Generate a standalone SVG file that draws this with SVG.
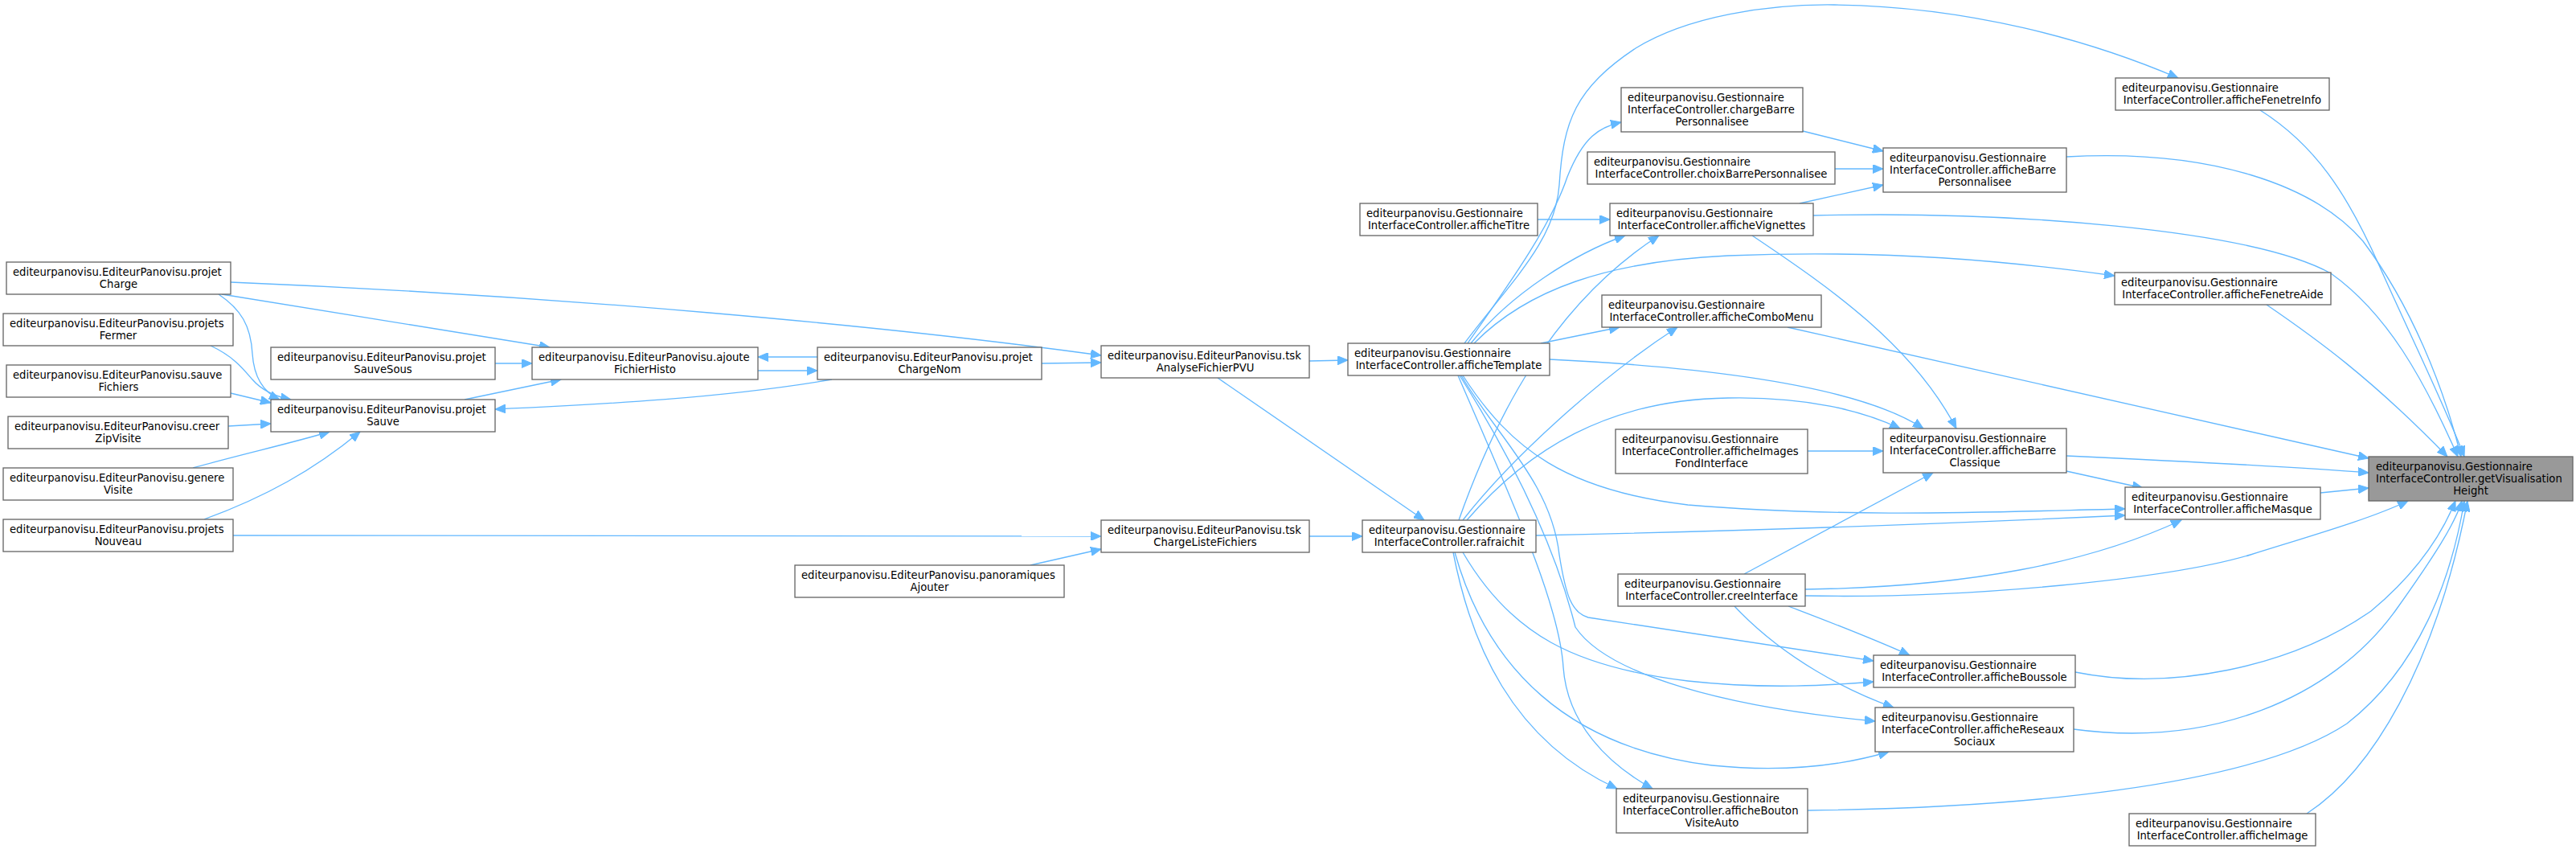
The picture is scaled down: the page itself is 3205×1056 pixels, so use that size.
<svg xmlns="http://www.w3.org/2000/svg" width="3205" height="1056" viewBox="0 0 3205 1056">
<defs>
<style>
.node rect{fill:#ffffff;stroke:#666666;stroke-width:1.33}
.node rect.root{fill:#999999}
.node text{font-family:"DejaVu Sans","Liberation Sans",sans-serif;font-size:13.2px;fill:#000000}
.node text.c{text-anchor:middle}
#edges path{fill:none;stroke:#63b8ff;stroke-width:1.33;marker-end:url(#ah)}
</style>
<marker id="ah" markerUnits="userSpaceOnUse" markerWidth="14" markerHeight="11" refX="13" refY="5.5" orient="auto">
<path d="M0,0 L13,5.5 L0,11 z" fill="#63b8ff" stroke="#63b8ff" stroke-width="1"/>
</marker>
</defs>
<rect width="3205" height="1056" fill="#ffffff"/>
<g id="edges">
<path d="M272,366 C300,385 312,405 314,440 C316,470 328,488 348,497"/>
<path d="M262,430 C290,443 302,458 314,472 C326,486 342,493 362,497"/>
<path d="M287,489 L337,501"/>
<path d="M284,530 L337,527"/>
<path d="M240,582 C300,565 360,552 410,537"/>
<path d="M254,646 C330,618 390,585 448,537"/>
<path d="M276,366 L684,432"/>
<path d="M287,351 C700,368 1100,405 1370,442"/>
<path d="M290,666 L1370,667"/>
<path d="M616,452 L662,452"/>
<path d="M578,497 L698,472"/>
<path d="M1035,472 C900,495 750,503 616,509"/>
<path d="M1017,444 L943,444"/>
<path d="M943,461 L1017,461"/>
<path d="M1296,452 L1370,451"/>
<path d="M1282,703 L1370,683"/>
<path d="M1629,449 L1677,448"/>
<path d="M1629,667 L1695,667"/>
<path d="M1515,470 L1772,647"/>
<path d="M1913,273 L2003,273"/>
<path d="M1826,427 C1880,350 1930,280 1950,220 C1970,170 1990,158 2017,152"/>
<path d="M1822,427 C1880,350 1935,300 1940,230 C1945,150 1960,110 2035,60 C2100,20 2200,5 2282,6 C2450,8 2600,50 2710,97"/>
<path d="M1830,427 C1880,365 1960,315 2022,293"/>
<path d="M1834,427 C1900,360 2000,325 2150,318 C2350,310 2500,325 2631,343"/>
<path d="M1917,427 L2015,407"/>
<path d="M1928,447 C2150,458 2320,485 2393,533"/>
<path d="M1820,467 C1880,560 1950,610 2100,628 C2300,645 2500,636 2644,633"/>
<path d="M1818,467 C1860,540 1930,600 1940,690 C1948,740 1955,762 1976,768 L2331,822"/>
<path d="M1816,467 C1900,600 1940,700 1960,780 C2000,840 2150,880 2333,897"/>
<path d="M1814,467 C1880,620 1940,750 1945,830 C1950,900 2000,950 2056,981"/>
<path d="M1815,647 C1860,520 1930,380 2064,293"/>
<path d="M1820,647 C1880,570 1990,470 2087,407"/>
<path d="M1825,647 C1900,560 2000,497 2150,495 C2250,493 2320,512 2364,533"/>
<path d="M1911,666 C2200,660 2450,650 2644,641"/>
<path d="M1820,687 C1880,790 1960,830 2100,847 C2200,858 2280,852 2331,848"/>
<path d="M1810,687 C1850,830 1950,930 2130,952 C2230,962 2300,950 2350,935"/>
<path d="M1808,687 C1830,800 1880,920 2012,981"/>
<path d="M2239,253 L2343,230"/>
<path d="M2180,293 C2280,360 2380,430 2434,533"/>
<path d="M2256,268 C2500,262 2800,285 2900,340 C2970,390 3015,470 3058,568"/>
<path d="M2243,163 L2343,188"/>
<path d="M2283,210 L2343,210"/>
<path d="M2249,561 L2343,561"/>
<path d="M2170,714 L2405,588"/>
<path d="M2246,733 C2450,730 2600,700 2714,647"/>
<path d="M2246,741 C2450,745 2700,720 2800,690 C2880,665 2950,645 2996,623"/>
<path d="M2225,754 C2280,775 2320,790 2376,815"/>
<path d="M2158,754 C2220,820 2300,860 2356,880"/>
<path d="M2812,137 C2880,180 2920,240 2960,330 C3000,420 3040,500 3066,568"/>
<path d="M2571,195 C2750,185 2880,230 2940,300 C3000,380 3040,480 3062,568"/>
<path d="M2820,379 C2880,420 2950,470 3045,568"/>
<path d="M2224,407 L2947,570"/>
<path d="M2571,567 C2700,573 2850,580 2947,588"/>
<path d="M2887,613 L2947,607"/>
<path d="M2571,586 L2666,607"/>
<path d="M2582,836 C2700,860 2850,830 2950,760 C3010,710 3040,660 3055,623"/>
<path d="M2580,907 C2750,930 2900,870 2980,760 C3030,690 3055,650 3063,623"/>
<path d="M2249,1008 C2500,1005 2800,980 2920,900 C3010,830 3050,720 3066,623"/>
<path d="M2870,1012 C2950,960 3030,830 3070,623"/>
</g>
<g id="n_getVisualisationHeight" class="node"><rect class="root" x="2947" y="568" width="254" height="55"/><text x="2956" y="585">editeurpanovisu.Gestionnaire</text><text x="2956" y="600">InterfaceController.getVisualisation</text><text class="c" x="3074" y="615">Height</text></g>
<g id="n_afficheFenetreInfo" class="node"><rect x="2632" y="97" width="266" height="40"/><text x="2640" y="114">editeurpanovisu.Gestionnaire</text><text class="c" x="2765" y="129">InterfaceController.afficheFenetreInfo</text></g>
<g id="n_afficheFenetreAide" class="node"><rect x="2631" y="339" width="269" height="40"/><text x="2639" y="356">editeurpanovisu.Gestionnaire</text><text class="c" x="2765.5" y="371">InterfaceController.afficheFenetreAide</text></g>
<g id="n_afficheMasque" class="node"><rect x="2644" y="606" width="243" height="40"/><text x="2652" y="623">editeurpanovisu.Gestionnaire</text><text class="c" x="2765.5" y="638">InterfaceController.afficheMasque</text></g>
<g id="n_afficheImage" class="node"><rect x="2649" y="1012" width="232" height="40"/><text x="2657" y="1029">editeurpanovisu.Gestionnaire</text><text class="c" x="2765" y="1044">InterfaceController.afficheImage</text></g>
<g id="n_afficheBarrePersonnalisee" class="node"><rect x="2343" y="184" width="228" height="55"/><text x="2351" y="201">editeurpanovisu.Gestionnaire</text><text x="2351" y="216">InterfaceController.afficheBarre</text><text class="c" x="2457" y="231">Personnalisee</text></g>
<g id="n_afficheBarreClassique" class="node"><rect x="2343" y="533" width="228" height="55"/><text x="2351" y="550">editeurpanovisu.Gestionnaire</text><text x="2351" y="565">InterfaceController.afficheBarre</text><text class="c" x="2457" y="580">Classique</text></g>
<g id="n_afficheBoussole" class="node"><rect x="2331" y="815" width="251" height="40"/><text x="2339" y="832">editeurpanovisu.Gestionnaire</text><text class="c" x="2456.5" y="847">InterfaceController.afficheBoussole</text></g>
<g id="n_afficheReseauxSociaux" class="node"><rect x="2333" y="880" width="247" height="55"/><text x="2341" y="897">editeurpanovisu.Gestionnaire</text><text x="2341" y="912">InterfaceController.afficheReseaux</text><text class="c" x="2456.5" y="927">Sociaux</text></g>
<g id="n_chargeBarrePersonnalisee" class="node"><rect x="2017" y="109" width="226" height="55"/><text x="2025" y="126">editeurpanovisu.Gestionnaire</text><text x="2025" y="141">InterfaceController.chargeBarre</text><text class="c" x="2130" y="156">Personnalisee</text></g>
<g id="n_choixBarrePersonnalisee" class="node"><rect x="1975" y="189" width="308" height="40"/><text x="1983" y="206">editeurpanovisu.Gestionnaire</text><text class="c" x="2129" y="221">InterfaceController.choixBarrePersonnalisee</text></g>
<g id="n_afficheVignettes" class="node"><rect x="2003" y="253" width="253" height="40"/><text x="2011" y="270">editeurpanovisu.Gestionnaire</text><text class="c" x="2129.5" y="285">InterfaceController.afficheVignettes</text></g>
<g id="n_afficheComboMenu" class="node"><rect x="1993" y="367" width="273" height="40"/><text x="2001" y="384">editeurpanovisu.Gestionnaire</text><text class="c" x="2129.5" y="399">InterfaceController.afficheComboMenu</text></g>
<g id="n_afficheImagesFondInterface" class="node"><rect x="2010" y="534" width="239" height="55"/><text x="2018" y="551">editeurpanovisu.Gestionnaire</text><text x="2018" y="566">InterfaceController.afficheImages</text><text class="c" x="2129.5" y="581">FondInterface</text></g>
<g id="n_creeInterface" class="node"><rect x="2013" y="714" width="233" height="40"/><text x="2021" y="731">editeurpanovisu.Gestionnaire</text><text class="c" x="2129.5" y="746">InterfaceController.creeInterface</text></g>
<g id="n_afficheBoutonVisiteAuto" class="node"><rect x="2011" y="981" width="238" height="55"/><text x="2019" y="998">editeurpanovisu.Gestionnaire</text><text x="2019" y="1013">InterfaceController.afficheBouton</text><text class="c" x="2130" y="1028">VisiteAuto</text></g>
<g id="n_afficheTitre" class="node"><rect x="1692" y="253" width="221" height="40"/><text x="1700" y="270">editeurpanovisu.Gestionnaire</text><text class="c" x="1802.5" y="285">InterfaceController.afficheTitre</text></g>
<g id="n_afficheTemplate" class="node"><rect x="1677" y="427" width="251" height="40"/><text x="1685" y="444">editeurpanovisu.Gestionnaire</text><text class="c" x="1802.5" y="459">InterfaceController.afficheTemplate</text></g>
<g id="n_rafraichit" class="node"><rect x="1695" y="647" width="216" height="40"/><text x="1703" y="664">editeurpanovisu.Gestionnaire</text><text class="c" x="1803" y="679">InterfaceController.rafraichit</text></g>
<g id="n_tskAnalyseFichierPVU" class="node"><rect x="1370" y="430" width="259" height="40"/><text x="1378" y="447">editeurpanovisu.EditeurPanovisu.tsk</text><text class="c" x="1499.5" y="462">AnalyseFichierPVU</text></g>
<g id="n_tskChargeListeFichiers" class="node"><rect x="1370" y="647" width="259" height="40"/><text x="1378" y="664">editeurpanovisu.EditeurPanovisu.tsk</text><text class="c" x="1499.5" y="679">ChargeListeFichiers</text></g>
<g id="n_projetChargeNom" class="node"><rect x="1017" y="432" width="279" height="40"/><text x="1025" y="449">editeurpanovisu.EditeurPanovisu.projet</text><text class="c" x="1156.5" y="464">ChargeNom</text></g>
<g id="n_panoramiquesAjouter" class="node"><rect x="989" y="703" width="335" height="40"/><text x="997" y="720">editeurpanovisu.EditeurPanovisu.panoramiques</text><text class="c" x="1156.5" y="735">Ajouter</text></g>
<g id="n_ajouteFichierHisto" class="node"><rect x="662" y="432" width="281" height="40"/><text x="670" y="449">editeurpanovisu.EditeurPanovisu.ajoute</text><text class="c" x="802.5" y="464">FichierHisto</text></g>
<g id="n_projetSauveSous" class="node"><rect x="337" y="432" width="279" height="40"/><text x="345" y="449">editeurpanovisu.EditeurPanovisu.projet</text><text class="c" x="476.5" y="464">SauveSous</text></g>
<g id="n_projetSauve" class="node"><rect x="337" y="497" width="279" height="40"/><text x="345" y="514">editeurpanovisu.EditeurPanovisu.projet</text><text class="c" x="476.5" y="529">Sauve</text></g>
<g id="n_projetCharge" class="node"><rect x="8" y="326" width="279" height="40"/><text x="16" y="343">editeurpanovisu.EditeurPanovisu.projet</text><text class="c" x="147.5" y="358">Charge</text></g>
<g id="n_projetsFermer" class="node"><rect x="4" y="390" width="286" height="40"/><text x="12" y="407">editeurpanovisu.EditeurPanovisu.projets</text><text class="c" x="147" y="422">Fermer</text></g>
<g id="n_sauveFichiers" class="node"><rect x="8" y="454" width="279" height="40"/><text x="16" y="471">editeurpanovisu.EditeurPanovisu.sauve</text><text class="c" x="147.5" y="486">Fichiers</text></g>
<g id="n_creerZipVisite" class="node"><rect x="10" y="518" width="274" height="40"/><text x="18" y="535">editeurpanovisu.EditeurPanovisu.creer</text><text class="c" x="147" y="550">ZipVisite</text></g>
<g id="n_genereVisite" class="node"><rect x="4" y="582" width="286" height="40"/><text x="12" y="599">editeurpanovisu.EditeurPanovisu.genere</text><text class="c" x="147" y="614">Visite</text></g>
<g id="n_projetsNouveau" class="node"><rect x="4" y="646" width="286" height="40"/><text x="12" y="663">editeurpanovisu.EditeurPanovisu.projets</text><text class="c" x="147" y="678">Nouveau</text></g>
</svg>
